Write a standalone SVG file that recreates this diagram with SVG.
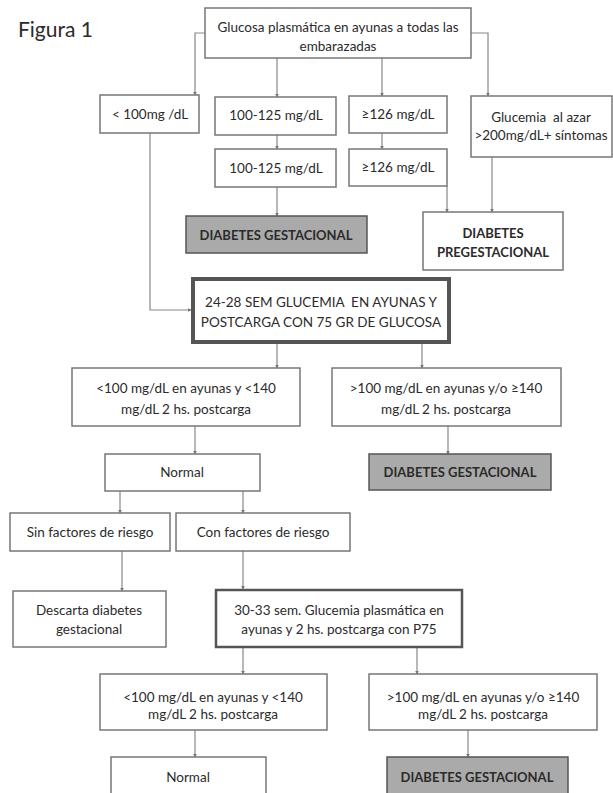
<svg xmlns="http://www.w3.org/2000/svg" width="613" height="793" viewBox="0 0 613 793">
<style>
text{font-family:Lato,"Liberation Sans",sans-serif;font-size:13.5px;fill:#2b2b2b;text-anchor:middle}
.b{font-weight:bold;font-size:13px}
.box{fill:#fff;stroke:#777;stroke-width:1.5}
.grey{fill:#aaa;stroke:#555;stroke-width:1.5}
.thick{fill:#fff;stroke:#555;stroke-width:4}
.med{fill:#fff;stroke:#555;stroke-width:2.5}
.c path{fill:none;stroke:#888;stroke-width:1.2;marker-end:url(#a)}
</style>
<defs>
<marker id="a" viewBox="0 0 6 6" refX="5" refY="3" markerWidth="3" markerHeight="3" orient="auto">
<path d="M0,0 L6,3 L0,6 z" fill="#777"/>
</marker>
</defs>
<rect width="613" height="793" fill="#fff"/>
<text x="18" y="37" style="font-size:21px;text-anchor:start">Figura 1</text>
<g class="c">
<path d="M205,33 H195 V95"/>
<path d="M277,58 V97"/>
<path d="M382,58 V96"/>
<path d="M471,33 H488 V96"/>
<path d="M277,135 V149"/>
<path d="M382,133 V149"/>
<path d="M277,187 V216"/>
<path d="M447,186 V212"/>
<path d="M492,157 V212"/>
<path d="M150,133 V310 H191"/>
<path d="M277,344 V368"/>
<path d="M422,344 V368"/>
<path d="M195,426 V454"/>
<path d="M448,426 V454"/>
<path d="M120,491 V513"/>
<path d="M243,491 V513"/>
<path d="M122,551 V591"/>
<path d="M243,551 V589"/>
<path d="M243,648 V674"/>
<path d="M417,648 V674"/>
<path d="M195,730 V757"/>
<path d="M468,730 V757"/>
</g>
<g id="n-top"><rect class="box" x="205" y="8" width="266" height="50"/><text x="338" y="32">Glucosa plasmática en ayunas a todas las</text><text x="338" y="51">embarazadas</text></g>
<g id="n-lt100"><rect class="box" x="100" y="95" width="99" height="38"/><text x="150" y="119">&lt; 100mg /dL</text></g>
<g id="n-100a"><rect class="box" x="215" y="97" width="121" height="38"/><text x="276" y="120">100-125 mg/dL</text></g>
<g id="n-126a"><rect class="box" x="349" y="96" width="98" height="37"/><text x="398" y="119">≥126 mg/dL</text></g>
<g id="n-azar"><rect class="box" x="471" y="96" width="141" height="61"/><text x="541" y="122" xml:space="preserve">Glucemia  al azar</text><text x="541" y="140">&gt;200mg/dL+ síntomas</text></g>
<g id="n-100b"><rect class="box" x="215" y="149" width="121" height="38"/><text x="276" y="173">100-125 mg/dL</text></g>
<g id="n-126b"><rect class="box" x="349" y="149" width="98" height="37"/><text x="398" y="172">≥126 mg/dL</text></g>
<g id="n-dg1"><rect class="grey" x="186" y="216" width="181" height="37"/><text class="b" x="276" y="240">DIABETES GESTACIONAL</text></g>
<g id="n-dp"><rect class="box" x="423" y="212" width="140" height="58"/><text class="b" x="493" y="238">DIABETES</text><text class="b" x="493" y="257">PREGESTACIONAL</text></g>
<g id="n-2428"><rect class="thick" x="193" y="279" width="256" height="63"/><text x="321" y="307" xml:space="preserve">24-28 SEM GLUCEMIA  EN AYUNAS Y</text><text x="321" y="327">POSTCARGA CON 75 GR DE GLUCOSA</text></g>
<g id="n-l1"><rect class="box" x="72" y="368" width="228" height="58"/><text x="186" y="393">&lt;100 mg/dL en ayunas y &lt;140</text><text x="186" y="414">mg/dL 2 hs. postcarga</text></g>
<g id="n-r1"><rect class="box" x="332" y="368" width="229" height="58"/><text x="446" y="393">&gt;100 mg/dL en ayunas y/o ≥140</text><text x="446" y="414">mg/dL 2 hs. postcarga</text></g>
<g id="n-normal1"><rect class="box" x="105" y="454" width="155" height="37"/><text x="182" y="477">Normal</text></g>
<g id="n-dg2"><rect class="grey" x="369" y="454" width="182" height="36"/><text class="b" x="460" y="477">DIABETES GESTACIONAL</text></g>
<g id="n-sin"><rect class="box" x="10" y="513" width="160" height="38"/><text x="90" y="537">Sin factores de riesgo</text></g>
<g id="n-con"><rect class="box" x="176" y="513" width="174" height="38"/><text x="263" y="537">Con factores de riesgo</text></g>
<g id="n-desc"><rect class="box" x="13" y="591" width="153" height="56"/><text x="89" y="615">Descarta diabetes</text><text x="89" y="634">gestacional</text></g>
<g id="n-3033"><rect class="med" x="216" y="590" width="246" height="57"/><text x="339" y="615">30-33 sem. Glucemia plasmática en</text><text x="339" y="634">ayunas y 2 hs. postcarga con P75</text></g>
<g id="n-l2"><rect class="box" x="100" y="674" width="227" height="56"/><text x="213" y="702">&lt;100 mg/dL en ayunas y &lt;140</text><text x="213" y="719">mg/dL 2 hs. postcarga</text></g>
<g id="n-r2"><rect class="box" x="369" y="674" width="228" height="56"/><text x="483" y="702">&gt;100 mg/dL en ayunas y/o ≥140</text><text x="483" y="719">mg/dL 2 hs. postcarga</text></g>
<g id="n-normal2"><rect class="box" x="111" y="757" width="155" height="42"/><text x="188" y="782">Normal</text></g>
<g id="n-dg3"><rect class="grey" x="387" y="757" width="181" height="42"/><text class="b" x="477" y="782">DIABETES GESTACIONAL</text></g>
</svg>
